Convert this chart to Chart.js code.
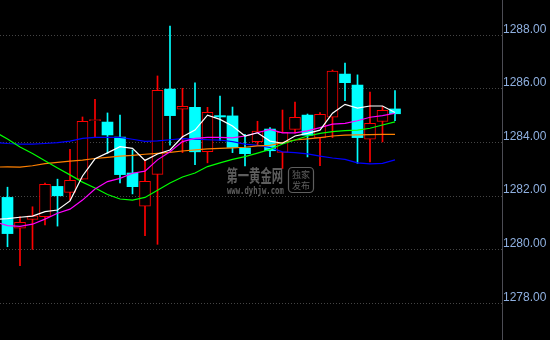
<!DOCTYPE html>
<html><head><meta charset="utf-8">
<script src="https://cdn.jsdelivr.net/npm/chart.js@4/dist/chart.umd.min.js"></script>
<style>html,body{margin:0;padding:0;background:#000;overflow:hidden}#wrap{position:relative;width:550px;height:340px;background:#000}</style>
</head><body><div id="wrap"><canvas id="c" width="550" height="340"></canvas></div>
<script>
// Candles (index 0..31)
const opens  = [1281.95,1280.80,1281.13,1281.23,1282.36,1282.14,1282.63,1284.81,1284.76,1284.20,1282.86,1281.62,1282.81,1285.99,1285.24,1285.31,1283.66,1285.00,1284.99,1283.79,1284.03,1284.50,1283.63,1284.49,1285.02,1284.17,1284.94,1286.55,1286.14,1284.12,1284.78,1285.25];
const highs  = [1282.33,1281.23,1281.60,1282.48,1282.63,1283.74,1284.95,1285.61,1285.10,1285.02,1283.72,1283.35,1286.48,1288.34,1286.02,1286.22,1285.31,1285.73,1285.32,1284.30,1284.79,1284.55,1285.21,1285.51,1285.06,1285.11,1286.70,1286.96,1286.52,1285.88,1285.34,1285.93];
const lows   = [1280.11,1279.40,1280.01,1280.92,1280.88,1281.85,1282.63,1284.21,1283.59,1282.49,1282.08,1280.52,1280.20,1283.90,1283.62,1283.17,1283.24,1284.07,1283.62,1283.12,1283.90,1283.47,1283.03,1284.35,1283.46,1283.13,1284.18,1285.56,1283.22,1283.27,1284.02,1284.81];
const closes = [1280.60,1281.02,1281.26,1282.44,1282.01,1282.59,1284.79,1284.85,1284.28,1282.80,1282.35,1282.55,1285.94,1285.00,1285.35,1283.65,1285.12,1284.95,1283.81,1283.58,1284.42,1283.69,1284.38,1284.94,1284.27,1285.05,1286.66,1286.23,1284.18,1284.71,1285.20,1285.07];

// Moving-average lines (index -1..31)
const maWhite   = [1281.13,1281.16,1281.21,1281.25,1281.42,1281.48,1281.82,1282.75,1283.39,1283.61,1283.84,1283.78,1283.33,1283.57,1283.72,1284.21,1284.46,1285.02,1284.86,1284.61,1284.24,1284.36,1284.05,1283.97,1284.24,1284.34,1284.46,1285.09,1285.42,1285.28,1285.36,1285.36,1285.12];
const maMagenta = [1281.03,1280.90,1280.87,1280.95,1281.14,1281.36,1281.51,1281.85,1282.26,1282.54,1282.66,1282.85,1282.93,1283.35,1283.65,1284.03,1284.15,1284.19,1284.19,1284.17,1284.24,1284.36,1284.49,1284.36,1284.36,1284.43,1284.55,1284.68,1284.71,1284.81,1284.94,1285.00,1285.09];
const maGreen   = [1284.39,1284.13,1283.83,1283.59,1283.32,1283.05,1282.79,1282.52,1282.30,1282.06,1281.89,1281.85,1281.95,1282.22,1282.49,1282.71,1282.86,1283.10,1283.24,1283.37,1283.47,1283.60,1283.74,1283.94,1284.09,1284.24,1284.34,1284.40,1284.44,1284.46,1284.53,1284.65,1284.77];
const maOrange  = [1283.08,1283.09,1283.08,1283.13,1283.21,1283.26,1283.30,1283.34,1283.40,1283.44,1283.49,1283.52,1283.56,1283.59,1283.63,1283.68,1283.72,1283.76,1283.78,1283.80,1283.82,1283.87,1283.89,1283.99,1284.09,1284.13,1284.18,1284.24,1284.27,1284.28,1284.29,1284.30,1284.30];
const maBlue    = [1284.00,1283.96,1283.94,1283.94,1283.96,1283.99,1284.05,1284.15,1284.19,1284.19,1284.19,1284.12,1284.04,1284.06,1284.10,1284.14,1284.12,1284.10,1284.09,1284.03,1283.94,1283.89,1283.81,1283.65,1283.62,1283.57,1283.49,1283.42,1283.37,1283.24,1283.20,1283.22,1283.35];

const yTicks = [1278, 1280, 1282, 1284, 1286, 1288];

const RED = '#ff0000', CYAN = '#00ffff';
const idx = opens.map((_, i) => i);
const up = idx.map(i => closes[i] >= opens[i]);
const wickData = idx.map(i => ({x: i, y: [lows[i], highs[i]]}));
const bodyData = idx.map(i => ({x: i, y: [opens[i], closes[i]]}));
const maX = [-1].concat(idx);

function maLine(vals, color) {
  return {
    type: 'line',
    data: vals.map((v, k) => ({x: maX[k], y: v})),
    borderColor: color, borderWidth: 1.2, pointRadius: 0, tension: 0,
    fill: false, order: 1
  };
}

const watermark = {
  id: 'watermark',
  beforeDatasetsDraw(chart) {
    const ctx = chart.ctx;
    ctx.save();
    ctx.fillStyle = '#5e5e5e';
    ctx.textBaseline = 'middle';
    ctx.save();
    ctx.translate(226.5, 176);
    ctx.scale(0.665, 1);
    ctx.font = 'bold 17px "Noto Sans CJK SC"';
    ctx.fillText('第一黄金网', 0, 0);
    ctx.restore();
    ctx.save();
    ctx.translate(227, 191.5);
    ctx.scale(0.66, 1);
    ctx.font = 'bold 11px "DejaVu Sans Mono"';
    ctx.fillText('www.dyhjw.com', 0, 0);
    ctx.restore();
    ctx.strokeStyle = '#5e5e5e';
    ctx.lineWidth = 1.2;
    ctx.beginPath();
    ctx.roundRect(288.5, 167.5, 25, 25, 4);
    ctx.stroke();
    ctx.font = '9px "Noto Sans CJK SC"';
    ctx.textAlign = 'center';
    ctx.fillText('独家', 301, 174.5);
    ctx.fillText('发布', 301, 185.5);
    ctx.restore();
  }
};

new Chart(document.getElementById('c'), {
  type: 'bar',
  data: {
    datasets: [
      maLine(maWhite, '#ffffff'),
      maLine(maMagenta, '#ff00ff'),
      maLine(maGreen, '#00ff00'),
      maLine(maOrange, '#ff8000'),
      maLine(maBlue, '#0000ff'),
      {
        type: 'bar', data: bodyData, grouped: false, barThickness: 11,
        backgroundColor: idx.map(i => up[i] ? '#000000' : CYAN),
        borderColor: idx.map(i => up[i] ? RED : CYAN),
        borderWidth: idx.map(i => up[i] ? 1 : 0),
        borderSkipped: false, order: 2
      },
      {
        type: 'bar', data: wickData, grouped: false, barThickness: 1,
        backgroundColor: idx.map(i => up[i] ? RED : CYAN),
        borderWidth: 0, order: 3
      }
    ]
  },
  options: {
    responsive: false,
    animation: false,
    devicePixelRatio: 1,
    layout: {padding: 0},
    plugins: {legend: {display: false}, tooltip: {enabled: false}},
    scales: {
      x: {type: 'linear', min: -0.6, max: 39.56, offset: false, display: false},
      y: {
        position: 'right',
        min: 1276.631, max: 1289.313,
        afterBuildTicks: (s) => { s.ticks = yTicks.map(v => ({value: v})); },
        afterFit: (s) => { s.width = 48; s.paddingTop = 0; s.paddingBottom = 0; },
        ticks: {
          color: '#8fb0e0', padding: 1, labelOffset: -6,
          font: {family: '"Liberation Sans", Arial', size: 12},
          callback: (v) => Number(v).toFixed(2)
        },
        grid: {color: '#454545', lineWidth: 1, drawTicks: false},
        border: {display: true, color: '#4c4c54', width: 1, dash: [1, 2]}
      }
    }
  },
  plugins: [watermark]
});
</script>
</body></html>
